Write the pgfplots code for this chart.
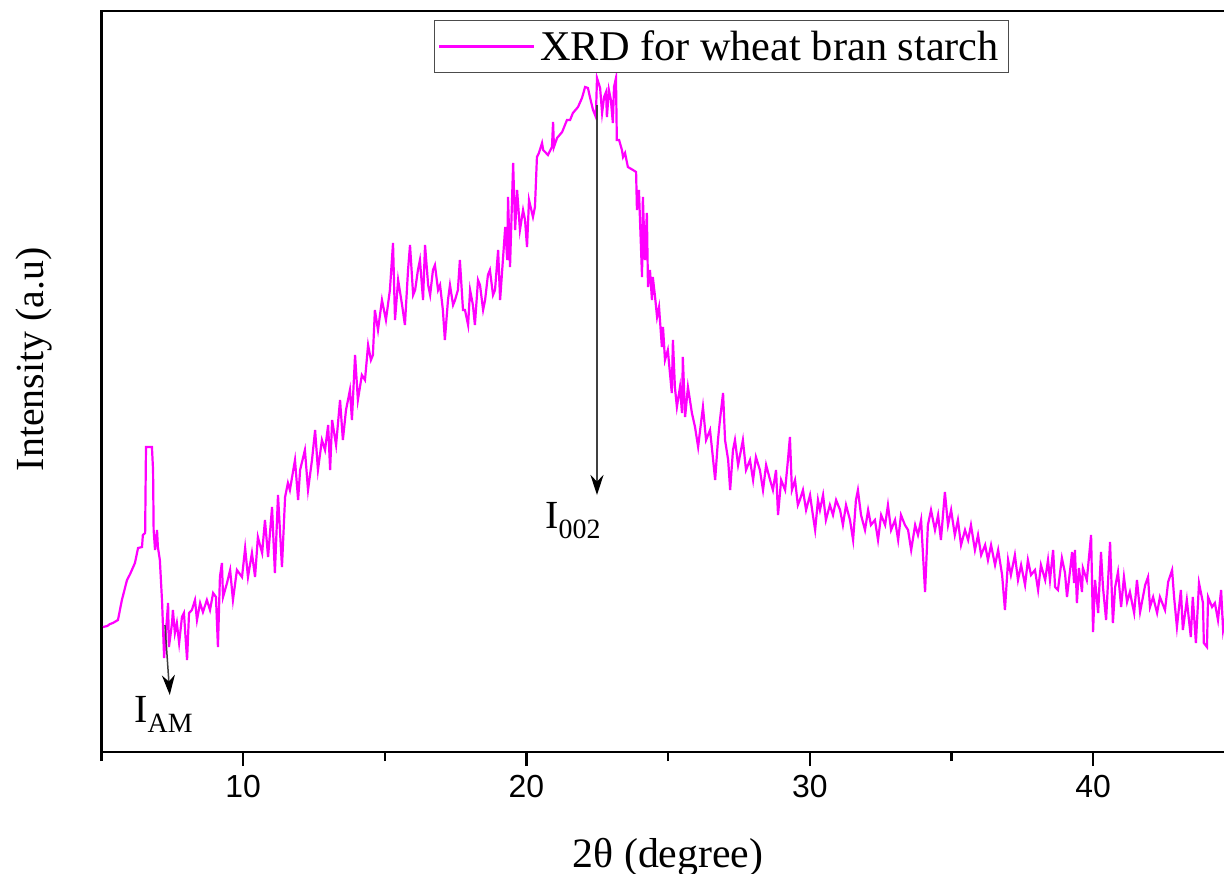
\documentclass[border=0pt]{standalone}
\usepackage{fontspec}
\setmainfont{Liberation Serif}
\newfontfamily\sansf{Liberation Sans}
\usepackage{pgfplots}
\usepackage{pgfplotstable}
\pgfplotsset{compat=1.18}
\usetikzlibrary{arrows.meta}
\definecolor{xrdmag}{RGB}{255,0,255}

\pgfplotstableread{
x y
5.05 125
5.20 126
5.30 128
5.40 129
5.58 132
5.72 152
5.90 172
6.01 178
6.18 189
6.29 204
6.43 205
6.46 217
6.54 219
6.57 305
6.78 305
6.82 282
6.84 222
6.89 202
6.96 222
6.99 205
7.06 192
7.14 149
7.21 94
7.28 122
7.35 149
7.38 105
7.49 129
7.52 142
7.59 119
7.66 129
7.74 109
7.84 135
7.91 139
8.02 92
8.09 139
8.19 142
8.30 152
8.37 132
8.48 149
8.58 140
8.72 152
8.83 142
8.94 159
9.04 155
9.11 105
9.18 175
9.25 189
9.29 155
9.43 169
9.54 182
9.64 152
9.78 182
9.96 175
10.07 204
10.17 175
10.31 199
10.42 175
10.52 215
10.67 199
10.77 232
10.88 195
11.02 245
11.12 179
11.23 257
11.37 185
11.48 255
11.58 269
11.65 262
11.83 292
11.94 252
12.01 282
12.18 302
12.29 262
12.43 292
12.54 322
12.64 282
12.78 312
12.89 302
13.00 327
13.07 282
13.14 332
13.28 307
13.42 352
13.52 312
13.63 342
13.77 362
13.84 332
13.95 397
14.05 352
14.19 377
14.30 372
14.41 407
14.51 392
14.58 397
14.65 442
14.76 422
14.90 452
15.04 432
15.18 462
15.29 509
15.36 432
15.47 472
15.61 447
15.71 427
15.82 482
15.89 507
16.00 457
16.07 462
16.17 482
16.24 492
16.35 452
16.42 507
16.53 467
16.60 457
16.70 482
16.77 487
16.88 462
16.95 467
17.05 442
17.12 412
17.23 452
17.30 467
17.41 447
17.48 452
17.58 462
17.65 492
17.76 442
17.83 442
17.94 427
18.01 462
18.11 447
18.18 427
18.29 472
18.36 467
18.47 442
18.54 452
18.64 477
18.71 482
18.82 457
18.89 462
19.00 502
19.07 452
19.25 525
19.32 492
19.35 555
19.42 485
19.53 589
19.60 522
19.67 562
19.77 522
19.88 542
19.95 532
20.02 505
20.09 552
20.23 535
20.30 545
20.37 595
20.44 599
20.55 609
20.59 602
20.76 597
20.90 605
20.94 630
20.97 605
21.08 614
21.26 620
21.43 632
21.54 632
21.64 639
21.82 645
21.96 654
22.07 665
22.17 664
22.24 655
22.35 642
22.45 635
22.49 674
22.60 664
22.67 639
22.74 655
22.81 660
22.84 635
22.91 662
22.98 652
23.05 629
23.09 665
23.16 674
23.19 612
23.27 612
23.37 602
23.41 595
23.48 599
23.58 585
23.76 582
23.87 580
23.90 542
23.97 562
24.08 475
24.11 555
24.18 492
24.25 539
24.29 465
24.36 482
24.43 452
24.46 475
24.54 455
24.61 435
24.68 445
24.78 405
24.82 425
24.89 392
24.99 402
25.13 359
25.17 412
25.24 365
25.31 345
25.42 365
25.49 339
25.52 395
25.60 335
25.70 365
25.84 339
25.95 325
26.06 305
26.13 322
26.23 345
26.34 312
26.48 322
26.59 292
26.66 272
26.76 312
26.83 332
26.94 359
27.01 312
27.12 292
27.19 262
27.29 302
27.36 312
27.47 287
27.54 297
27.64 312
27.75 282
27.89 292
28.00 272
28.10 295
28.24 282
28.35 262
28.46 287
28.60 272
28.70 262
28.81 282
28.88 237
28.99 272
29.13 262
29.23 292
29.30 315
29.37 262
29.48 272
29.58 247
29.65 252
29.76 262
29.87 242
30.01 257
30.11 237
30.19 222
30.29 252
30.36 242
30.47 257
30.57 232
30.71 247
30.82 237
30.93 252
31.07 242
31.17 227
31.28 247
31.42 232
31.53 212
31.63 252
31.70 262
31.81 237
31.95 222
32.06 242
32.16 227
32.30 232
32.41 212
32.52 237
32.66 227
32.76 247
32.87 222
33.01 232
33.12 212
33.22 237
33.36 227
33.47 222
33.58 202
33.72 227
33.82 217
33.93 232
34.07 160
34.17 227
34.28 242
34.42 222
34.53 237
34.63 212
34.77 260
34.88 227
34.99 242
35.12 217
35.23 232
35.34 207
35.48 222
35.59 212
35.69 227
35.83 202
35.94 217
36.05 197
36.19 207
36.29 192
36.40 207
36.54 187
36.65 202
36.79 177
36.89 142
37.00 192
37.10 177
37.24 197
37.35 172
37.46 187
37.60 167
37.70 192
37.81 177
37.95 182
38.06 162
38.16 187
38.31 172
38.41 192
38.48 172
38.59 202
38.66 165
38.76 162
38.90 194
39.01 179
39.08 155
39.19 182
39.26 200
39.33 169
39.36 202
39.43 149
39.50 184
39.61 160
39.64 184
39.78 172
39.93 217
40.00 120
40.07 172
40.18 139
40.28 200
40.35 165
40.46 132
40.60 210
40.70 129
40.78 165
40.88 180
40.99 145
41.09 175
41.20 150
41.30 160
41.45 139
41.55 172
41.66 140
41.84 167
41.94 175
42.01 145
42.12 155
42.26 139
42.36 155
42.54 142
42.65 170
42.79 182
42.86 155
42.96 125
43.10 162
43.17 122
43.31 152
43.45 115
43.52 155
43.63 109
43.74 169
43.88 149
43.91 109
44.02 105
44.06 155
44.20 145
44.30 149
44.41 132
44.52 162
44.59 122
44.70 140
}\xrddata

\begin{document}
\begin{tikzpicture}
\begin{axis}[
  name=ax,
  scale only axis,
  width=1133.2bp, height=741bp,
  xmin=5, xmax=45, ymin=0, ymax=741,
  axis line style={line width=2.5bp, black},
  xtick={10,20,30,40},
  minor xtick={5,15,25,35,45},
  xtick pos=left,
  tick align=outside,
  major tick length=14bp,
  minor tick length=9bp,
  every tick/.append style={line width=2.5bp, black},
  ytick=\empty,
  /pgf/number format/assume math mode=true,
  xticklabel style={font=\sansf\fontsize{32}{36}\selectfont, yshift=-6bp},
  xlabel={2θ (degree)},
  ylabel={Intensity (a.u)},
  every axis x label/.style={at={(axis description cs:0.5,-0.1552)}, anchor=base, font=\fontsize{42}{48}\selectfont},
  every axis y label/.style={at={(axis description cs:-0.0516,0.530)}, rotate=90, anchor=base, font=\fontsize{40}{46}\selectfont},
  legend style={at={(axis description cs:0.5467,1)}, anchor=north, yshift=-9bp,
    draw=black!70, line width=0.8bp, font=\fontsize{42.5}{48}\selectfont, inner xsep=4bp, inner ysep=1.5bp,
    nodes={inner xsep=5bp, inner ysep=9bp}},
  legend image code/.code={\draw[#1] (0bp,0bp) -- (95bp,0bp);},
]
\addplot[color=xrdmag, line width=2.2bp] table[x=x,y=y]{\xrddata};
\addlegendentry{XRD for wheat bran starch}
\draw[line width=1.5bp, black!75, -{Stealth[length=20bp,width=13bp,black]}] (axis cs:7.24,127) -- (axis cs:7.41,57);
\draw[line width=1.5bp, black!75, -{Stealth[length=20bp,width=13bp,black]}] (axis cs:22.49,647) -- (axis cs:22.49,257);
\node[font=\fontsize{40}{44}\selectfont, inner sep=0pt] at (axis cs:7.2,38) {I\textsubscript{AM}};
\node[font=\fontsize{40}{44}\selectfont, inner sep=0pt] at (axis cs:21.65,231) {I\textsubscript{002}};
\end{axis}
\pgfresetboundingbox
\path ([xshift=-101.5bp,yshift=-121bp]ax.south west) rectangle ([xshift=-10.7bp,yshift=11bp]ax.north east);
\end{tikzpicture}
\end{document}
